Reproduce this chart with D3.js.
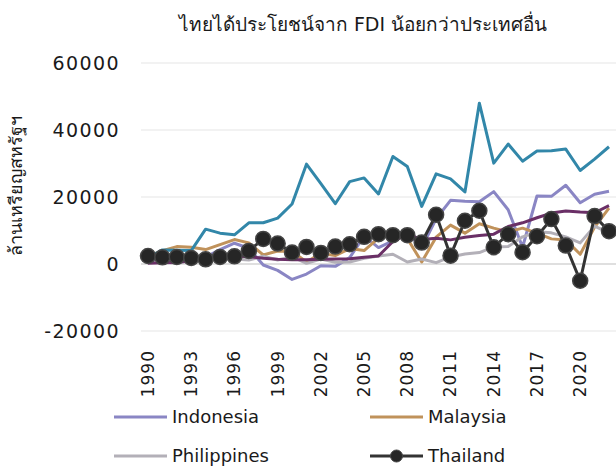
<!DOCTYPE html>
<html>
<head>
<meta charset="utf-8">
<script src="https://cdn.jsdelivr.net/npm/d3@7"></script>
<style>
  body { margin: 0; background: #fff; }
  text { font-family: "DejaVu Sans", "Noto Sans", sans-serif; fill: #1a1a1a; }
</style>
</head>
<body>
<script>
// years on the x axis
var years = d3.range(1990, 2023);
var tickYears = [1990, 1993, 1996, 1999, 2002, 2005, 2008, 2011, 2014, 2017, 2020];
var yTicks = [-20000, 0, 20000, 40000, 60000];

// FDI inflows, million USD
var indonesia = [1100, 1500, 1800, 2000, 2100, 4300, 6200, 4700, -300, -1900, -4600, -3000, -500, -700, 1900,
  8300, 4900, 6900, 9300, 4900, 13500, 19000, 18700, 18600, 21600, 16200, 5000, 20300, 20200, 23500, 18300, 20800, 21700];
var malaysia = [2300, 4000, 5200, 5000, 4300, 5800, 7300, 6300, 2700, 3900, 3800, 600, 3200, 2500, 4600,
  4000, 7700, 9100, 7600, 600, 8000, 11600, 9200, 12000, 10700, 9600, 10700, 9200, 7500, 7200, 2900, 11000, 16700];
var philippines = [500, 500, 200, 1200, 1600, 1500, 1500, 1200, 2300, 1200, 2200, 200, 1500, 500, 600,
  1700, 2400, 2900, 600, 1500, 400, 2100, 3000, 3400, 5100, 5200, 8100, 9600, 9300, 8100, 6300, 11300, 9300];
var thailand = [2400, 2000, 2100, 1800, 1400, 2100, 2300, 3900, 7500, 6100, 3400, 5100, 3300, 5200, 5900,
  8100, 8900, 8600, 8600, 6400, 14700, 2500, 12900, 15900, 5000, 8900, 3500, 8300, 13400, 5500, -5000, 14300, 9800];
var singapore = [1800, 4200, 4100, 4000, 10400, 9200, 8700, 12300, 12300, 13700, 17900, 29800, 24000, 18000, 24600,
  25700, 20900, 32100, 29100, 17200, 26900, 25400, 21500, 48000, 30100, 35800, 30700, 33700, 33800, 34300, 27900, 31300, 35000];
var vietnam = [200, 400, 500, 900, 1900, 1800, 2400, 2200, 1700, 1400, 1300, 1300, 1400, 1500, 1600,
  2000, 2400, 6700, 9000, 7300, 7700, 7200, 8000, 8500, 8900, 11200, 12300, 13800, 15200, 15800, 15500, 15300, 17400];

var series = [
  {name: "Indonesia", values: indonesia, color: "#8a86c4"},
  {name: "Malaysia", values: malaysia, color: "#c0925b"},
  {name: "Philippines", values: philippines, color: "#b3b0b8"},
  {name: "Singapore", values: singapore, color: "#3287a9"},
  {name: "Vietnam", values: vietnam, color: "#6a2f66"},
  {name: "Thailand", values: thailand, color: "#333333", marker: true}
];

var width = 616, height = 467;
var margin = {top: 63, right: 0, bottom: 136, left: 141};

var svg = d3.select("body").append("svg")
    .attr("width", width)
    .attr("height", height);

var x = d3.scalePoint()
    .domain(years)
    .range([margin.left + 7, width - 7]);

var y = d3.scaleLinear()
    .domain([-20000, 60000])
    .range([height - margin.bottom, margin.top]);

// gridlines
svg.append("g")
  .selectAll("line")
  .data(yTicks)
  .enter().append("line")
    .attr("x1", margin.left)
    .attr("x2", width)
    .attr("y1", function(d) { return y(d); })
    .attr("y2", function(d) { return y(d); })
    .attr("stroke", function(d) { return d === 0 ? "#d4d4d4" : "#eeeeee"; })
    .attr("stroke-width", 1.5);

// y tick labels
svg.append("g")
  .selectAll("text")
  .data(yTicks)
  .enter().append("text")
    .attr("x", 120)
    .attr("y", function(d) { return y(d); })
    .attr("dy", "0.35em")
    .attr("text-anchor", "end")
    .style("font-size", "19px")
    .style("letter-spacing", "1.4px")
    .text(function(d) { return d; });

// x tick labels, rotated
svg.append("g")
  .selectAll("text")
  .data(tickYears)
  .enter().append("text")
    .attr("transform", function(d) { return "translate(" + x(d) + ",350) rotate(-90)"; })
    .attr("dy", "0.35em")
    .attr("text-anchor", "end")
    .style("font-size", "17px")
    .style("letter-spacing", "1px")
    .text(function(d) { return d; });

// lines
var line = d3.line()
    .x(function(d, i) { return x(years[i]); })
    .y(function(d) { return y(d); });

var g = svg.append("g");
series.forEach(function(s) {
  g.append("path")
    .attr("d", line(s.values))
    .attr("fill", "none")
    .attr("stroke", s.color)
    .attr("stroke-width", 3)
    .attr("stroke-linejoin", "round");
  if (s.marker) {
    g.selectAll(".dot")
      .data(s.values)
      .enter().append("circle")
        .attr("cx", function(d, i) { return x(years[i]); })
        .attr("cy", function(d) { return y(d); })
        .attr("r", 7.5)
        .attr("fill", "#262626")
        .attr("stroke", "#444")
        .attr("stroke-width", 1.5);
  }
});

// title
svg.append("text")
  .attr("x", 363)
  .attr("y", 31)
  .attr("text-anchor", "middle")
  .style("font-size", "19px")
  .text("ไทยได้ประโยชน์จาก FDI น้อยกว่าประเทศอื่น");

// y axis label
svg.append("text")
  .attr("transform", "translate(16,186) rotate(-90)")
  .attr("text-anchor", "middle")
  .attr("dy", "0.35em")
  .style("font-size", "18px")
  .style("font-weight", "300")
  .text("ล้านเหรียญสหรัฐฯ");

// legend (only the rows that fit in the frame)
var legendItems = [
  {s: series[0], x: 114, y: 417},
  {s: series[1], x: 370, y: 417},
  {s: series[2], x: 114, y: 456},
  {s: series[5], x: 370, y: 456}
];
var lg = svg.append("g").selectAll("g")
    .data(legendItems)
  .enter().append("g")
    .attr("transform", function(d) { return "translate(" + d.x + "," + d.y + ")"; });
lg.append("line")
    .attr("x1", 0).attr("x2", 53)
    .attr("stroke", function(d) { return d.s.color; })
    .attr("stroke-width", 3);
lg.filter(function(d) { return d.s.marker; })
  .append("circle")
    .attr("cx", 26.5).attr("r", 6)
    .attr("fill", "#262626").attr("stroke", "#444");
lg.append("text")
    .attr("x", 58)
    .attr("dy", "0.35em")
    .style("font-size", "18px")
    .text(function(d) { return d.s.name; });
</script>
</body>
</html>
